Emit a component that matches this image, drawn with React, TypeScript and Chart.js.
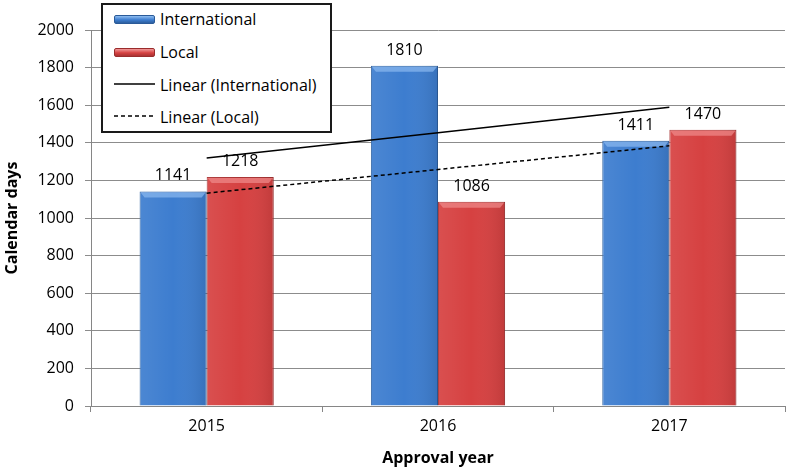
import React, { useEffect, useRef } from "react";
import { Chart, registerables } from "chart.js";

Chart.register(...registerables);

const categories = ["2015", "2016", "2017"];
const international = [1141, 1810, 1411];
const local = [1218, 1086, 1470];
const yMin = 0;
const yMax = 2000;
const yStep = 200;

const FONT = "'Open Sans', 'Noto Sans', sans-serif";

function linearTrend(values: number[]): number[] {
  const n = values.length;
  const xs = values.map((_, i) => i + 1);
  const mx = xs.reduce((a, b) => a + b, 0) / n;
  const my = values.reduce((a, b) => a + b, 0) / n;
  let num = 0;
  let den = 0;
  xs.forEach((x, i) => {
    num += (x - mx) * (values[i] - my);
    den += (x - mx) * (x - mx);
  });
  const slope = num / den;
  const intercept = my - slope * mx;
  return xs.map((x) => intercept + slope * x);
}

const bevelPlugin = {
  id: "bevel",
  afterDatasetDraw(chart: any, args: any) {
    const meta = args.meta;
    if (meta.type !== "bar") return;
    const ds = chart.data.datasets[args.index];
    const ctx = chart.ctx;
    ctx.save();
    meta.data.forEach((bar: any) => {
      const { x, y, width, base } = bar.getProps(["x", "y", "width", "base"], true);
      const l = x - width / 2;
      const r = x + width / 2;
      const g = ctx.createLinearGradient(l, 0, r, 0);
      g.addColorStop(0, "rgba(255,255,255,0.08)");
      g.addColorStop(0.5, "rgba(255,255,255,0)");
      g.addColorStop(1, "rgba(0,0,0,0.10)");
      ctx.fillStyle = g;
      ctx.fillRect(l, y, width, base - y);
      ctx.fillStyle = ds.bevelColor;
      ctx.beginPath();
      ctx.moveTo(l + 1, y + 1);
      ctx.lineTo(r - 1, y + 1);
      ctx.lineTo(r - 5, y + 6);
      ctx.lineTo(l + 5, y + 6);
      ctx.closePath();
      ctx.fill();
    });
    ctx.restore();
  },
};

const labelPlugin = {
  id: "barLabels",
  afterDatasetsDraw(chart: any) {
    const ctx = chart.ctx;
    ctx.save();
    ctx.font = `16px ${FONT}`;
    ctx.fillStyle = "#000";
    ctx.textAlign = "center";
    ctx.textBaseline = "alphabetic";
    chart.data.datasets.forEach((ds: any, i: number) => {
      if (ds.type === "line") return;
      const meta = chart.getDatasetMeta(i);
      meta.data.forEach((bar: any, j: number) => {
        ctx.fillText(String(ds.data[j]), bar.x, bar.y - 11);
      });
    });
    ctx.restore();
  },
};

export default function App() {
  const canvasRef = useRef<HTMLCanvasElement | null>(null);

  useEffect(() => {
    if (!canvasRef.current) return;
    const chart = new Chart(canvasRef.current, {
      type: "bar",
      data: {
        labels: categories,
        datasets: [
          {
            type: "bar",
            label: "International",
            data: international,
            backgroundColor: "#3d7dcf",
            borderColor: "#2d5f9f",
            borderWidth: 1,
            categoryPercentage: 0.58,
            barPercentage: 1,
            bevelColor: "rgba(140,185,240,0.7)",
          } as any,
          {
            type: "bar",
            label: "Local",
            data: local,
            backgroundColor: "#d64141",
            borderColor: "#a83232",
            borderWidth: 1,
            categoryPercentage: 0.58,
            barPercentage: 1,
            bevelColor: "rgba(240,140,140,0.7)",
          } as any,
          {
            type: "line",
            label: "Linear (International)",
            data: linearTrend(international),
            borderColor: "#000",
            borderWidth: 1.5,
            pointRadius: 0,
            fill: false,
            order: -1,
          },
          {
            type: "line",
            label: "Linear (Local)",
            data: linearTrend(local),
            borderColor: "#000",
            borderWidth: 1.5,
            borderDash: [4, 3],
            pointRadius: 0,
            fill: false,
            order: -1,
          },
        ],
      },
      options: {
        responsive: false,
        animation: false,
        layout: { padding: { top: 30, right: 7, left: 0, bottom: 0 } },
        plugins: {
          legend: { display: false },
          tooltip: { enabled: false },
        },
        scales: {
          x: {
            offset: true,
            grid: {
              offset: true,
              drawOnChartArea: false,
              drawTicks: true,
              tickLength: 6,
              color: "#868686",
            },
            border: { color: "#868686", width: 1 },
            ticks: { font: { family: FONT, size: 16 }, color: "#000", padding: 5 },
            title: {
              display: true,
              text: "Approval year",
              font: { family: FONT, size: 16, weight: "bold" },
              color: "#000",
              padding: { top: 2, bottom: 3 },
            },
            afterFit: (s: any) => {
              s.height = 65;
            },
          },
          y: {
            min: yMin,
            max: yMax,
            ticks: {
              stepSize: yStep,
              font: { family: FONT, size: 16 },
              color: "#000",
              padding: 11,
              callback: (v: any) => String(v),
            },
            grid: { color: "#8c8c8c", tickLength: 6 },
            border: { color: "#868686", width: 1 },
            title: {
              display: true,
              text: "Calendar days",
              font: { family: FONT, size: 16, weight: "bold" },
              color: "#000",
              padding: { top: 3, bottom: 0 },
            },
            afterFit: (s: any) => {
              s.width = 91;
            },
          },
        },
      },
      plugins: [bevelPlugin, labelPlugin],
    });
    return () => chart.destroy();
  }, []);

  const rowText: React.CSSProperties = {
    position: "absolute",
    left: 57,
    fontFamily: FONT,
    fontSize: 16,
    color: "#000",
    lineHeight: "18px",
    whiteSpace: "nowrap",
  };
  const swatch = (top: string, mid: string, bot: string, border: string): React.CSSProperties => ({
    position: "absolute",
    left: 11,
    width: 41,
    height: 9,
    boxSizing: "border-box",
    border: `1px solid ${border}`,
    borderRadius: 2,
    background: `linear-gradient(${top}, ${mid} 55%, ${bot})`,
  });

  return (
    <div style={{ position: "absolute", left: 0, top: 0, width: 792, height: 471, background: "#fff" }}>
      <canvas ref={canvasRef} width={792} height={471} style={{ display: "block" }} />
      <div
        style={{
          position: "absolute",
          left: 101,
          top: 3,
          width: 231,
          height: 130,
          boxSizing: "border-box",
          border: "2px solid #1a1a1a",
          background: "#fff",
        }}
      >
        <div style={{ ...swatch("#8fbdf0", "#3d7dcf", "#2d5f9f", "#2a5a98"), top: 10 }} />
        <div style={{ ...rowText, top: 5 }}>International</div>
        <div style={{ ...swatch("#f09a9a", "#d64141", "#a83232", "#9a2c2c"), top: 43 }} />
        <div style={{ ...rowText, top: 38 }}>Local</div>
        <svg style={{ position: "absolute", left: 11, top: 76 }} width={42} height={6}>
          <line x1={0} y1={3} x2={41} y2={3} stroke="#000" strokeWidth={1.5} />
        </svg>
        <div style={{ ...rowText, top: 71 }}>Linear (International)</div>
        <svg style={{ position: "absolute", left: 11, top: 108 }} width={42} height={6}>
          <line x1={0} y1={3} x2={41} y2={3} stroke="#000" strokeWidth={1.5} strokeDasharray="4 3" />
        </svg>
        <div style={{ ...rowText, top: 103 }}>Linear (Local)</div>
      </div>
    </div>
  );
}
